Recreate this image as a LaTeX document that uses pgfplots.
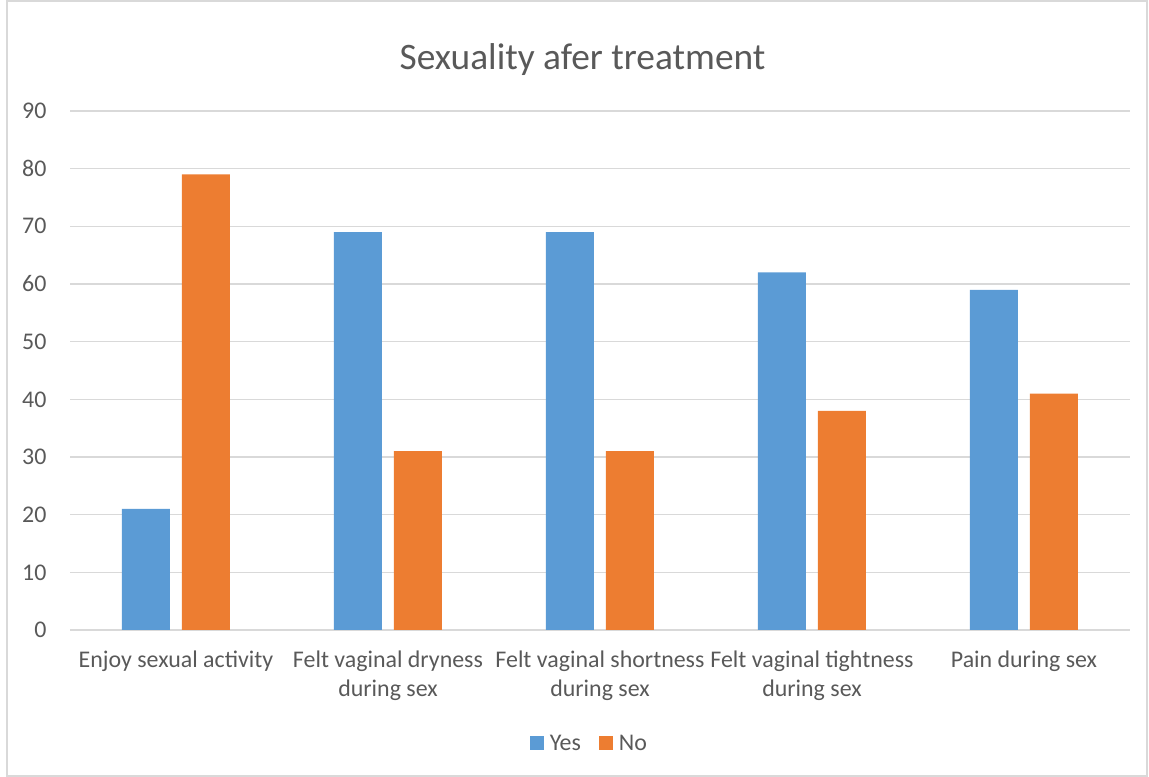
\documentclass[border=0pt]{standalone}
\usepackage{fontspec}
\setmainfont{Carlito}
\usepackage{pgfplots}
\pgfplotsset{compat=1.18}
\definecolor{yesblue}{HTML}{5B9BD5}
\definecolor{noorange}{HTML}{ED7D31}
\definecolor{gridgray}{HTML}{D9D9D9}
\definecolor{textgray}{HTML}{595959}
\definecolor{framegray}{HTML}{D9D9D9}
\begin{document}
\begin{tikzpicture}[x=1bp,y=1bp]
\useasboundingbox (0,0) rectangle (1149,777);
\draw[framegray, line width=1.2bp] (7,1) rectangle (1147,776);
\begin{axis}[
  at={(70bp,147bp)}, anchor=south west,
  scale only axis, width=1060bp, height=519bp,
  xmin=-0.5, xmax=4.5, ymin=0, ymax=90,
  ytick={0,10,...,90},
  xtick={0,1,2,3,4},
  xticklabels={Enjoy sexual activity,
    Felt vaginal dryness\\during sex,
    Felt vaginal shortness\\during sex,
    Felt vaginal tightness\\during sex,
    Pain during sex},
  ybar=12bp, bar width=48bp,
  axis line style={draw=none},
  major tick length=0pt,
  ymajorgrids, grid style={gridgray, line width=1.2bp},
  /pgf/number format/assume math mode=true,
  tick label style={font=\fontsize{24}{29}\selectfont, text=textgray},
  yticklabel style={anchor=east, xshift=-20bp},
  xticklabel style={align=center, anchor=north, yshift=-17bp},
  title={Sexuality afer treatment},
  title style={font=\fontsize{37.5}{42}\selectfont, text=textgray,
    at={(0.4835,1.087)}, anchor=center},
  legend style={draw=none, fill=none, at={(0.49,-0.218)}, anchor=center,
    font=\fontsize{24}{29}\selectfont, text=textgray,
    legend columns=2, /tikz/every even column/.append style={column sep=16bp}},
  legend image code/.code={\fill[#1] (0bp,-7bp) rectangle (14bp,7bp);
    \path (18bp,0bp);},
]
\addplot[fill=yesblue, draw=none] coordinates {(0,21) (1,69) (2,69) (3,62) (4,59)};
\addplot[fill=noorange, draw=none] coordinates {(0,79) (1,31) (2,31) (3,38) (4,41)};
\legend{Yes, No}
\end{axis}
\end{tikzpicture}
\end{document}
